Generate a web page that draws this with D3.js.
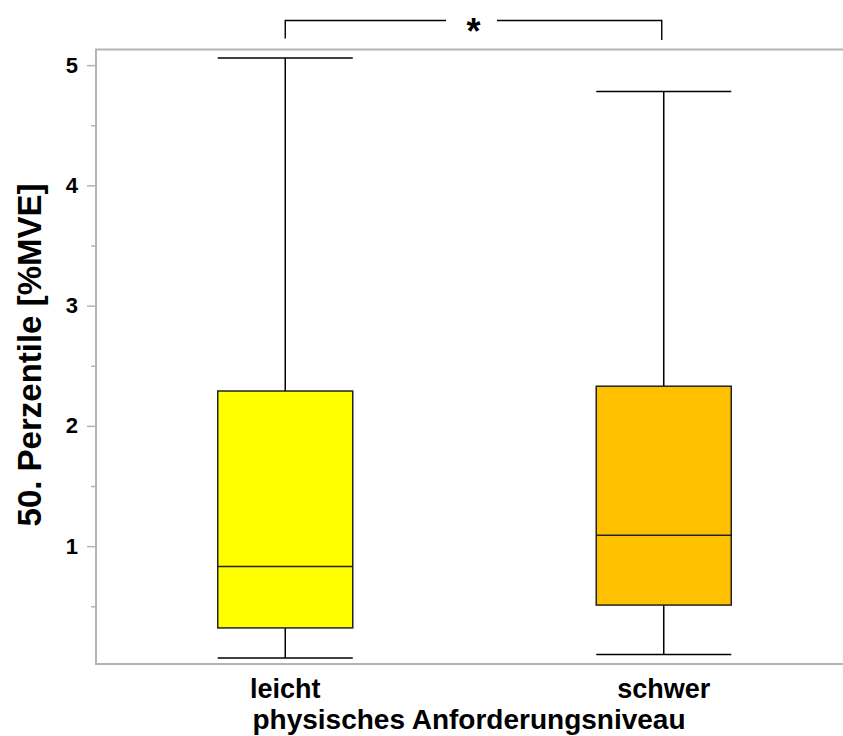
<!DOCTYPE html>
<html>
<head>
<meta charset="utf-8">
<script src="https://cdn.jsdelivr.net/npm/d3@7"></script>
<style>
  html, body { margin: 0; padding: 0; background: #fff; }
  svg { display: block; }
  text { font-family: "Liberation Sans", Arial, sans-serif; font-weight: bold; fill: #000; }
</style>
</head>
<body>
<svg id="chart" width="843" height="736"></svg>
<script>
// ---- data ----
const categories = ["leicht", "schwer"];
const whiskerLow = [0.07, 0.10];
const q1 = [0.32, 0.51];
const median = [0.83, 1.09];
const q3 = [2.29, 2.33];
const whiskerHigh = [5.06, 4.78];
const boxColors = ["#ffff00", "#ffc000"];
const majorTicks = [1, 2, 3, 4, 5];
const minorTicks = [0.5, 1.5, 2.5, 3.5, 4.5];
const yTitle = "50. Perzentile [%MVE]";
const xTitle = "physisches Anforderungsniveau";
const sigLabel = "*";

// ---- layout ----
const svg = d3.select("#chart");
const pLeft = 96, pRight = 853, pTop = 49.5, pBottom = 664;
const boxW = 135;

const x = d3.scalePoint().domain(categories).range([pLeft, pRight]).padding(0.5);
const y = d3.scaleLinear().domain([0.02, 5.13]).range([pBottom, pTop]);

// frame
const frame = svg.append("g").attr("stroke", "#b4b4b4").attr("stroke-width", 2).attr("fill", "none");
frame.append("path").attr("d", `M${pRight},${pTop}H${pLeft}V${pBottom}H${pRight}`);

// y axis ticks
svg.append("g").attr("transform", `translate(${pLeft},0)`)
  .call(d3.axisLeft(y).tickValues(majorTicks).tickSize(9).tickPadding(9).tickFormat(d3.format("d")))
  .attr("font-size", 22).attr("font-family", "Liberation Sans, Arial, sans-serif")
  .call(g => g.select(".domain").remove())
  .call(g => g.selectAll("line").attr("stroke", "#b4b4b4").attr("stroke-width", 1.5))
  .call(g => g.selectAll("text").style("font-size", "22px").attr("font-weight", "bold").attr("fill", "#000"));
svg.append("g").attr("transform", `translate(${pLeft},0)`)
  .call(d3.axisLeft(y).tickValues(minorTicks).tickSize(5).tickFormat(""))
  .call(g => g.select(".domain").remove())
  .call(g => g.selectAll("line").attr("stroke", "#b4b4b4").attr("stroke-width", 1.5));

// boxes
const data = categories.map((c, i) => ({
  c, lo: whiskerLow[i], q1: q1[i], med: median[i], q3: q3[i], hi: whiskerHigh[i], color: boxColors[i]
}));
const g = svg.append("g").selectAll("g").data(data).join("g");
g.append("line").attr("x1", d => x(d.c)).attr("x2", d => x(d.c))
  .attr("y1", d => y(d.hi)).attr("y2", d => y(d.lo))
  .attr("stroke", "#000").attr("stroke-width", 1.5);
g.append("line").attr("x1", d => x(d.c) - boxW / 2).attr("x2", d => x(d.c) + boxW / 2)
  .attr("y1", d => y(d.hi)).attr("y2", d => y(d.hi)).attr("stroke", "#000").attr("stroke-width", 1.5);
g.append("line").attr("x1", d => x(d.c) - boxW / 2).attr("x2", d => x(d.c) + boxW / 2)
  .attr("y1", d => y(d.lo)).attr("y2", d => y(d.lo)).attr("stroke", "#000").attr("stroke-width", 1.5);
g.append("rect").attr("x", d => x(d.c) - boxW / 2).attr("width", boxW)
  .attr("y", d => y(d.q3)).attr("height", d => y(d.q1) - y(d.q3))
  .attr("fill", d => d.color).attr("stroke", "#222").attr("stroke-width", 1.5);
g.append("line").attr("x1", d => x(d.c) - boxW / 2).attr("x2", d => x(d.c) + boxW / 2)
  .attr("y1", d => y(d.med)).attr("y2", d => y(d.med)).attr("stroke", "#222").attr("stroke-width", 1.5);

// category labels
svg.append("g").selectAll("text").data(categories).join("text")
  .attr("x", d => x(d)).attr("y", 698).attr("text-anchor", "middle")
  .style("font-size", "27px").text(d => d);

// axis titles
svg.append("text").attr("x", 469).attr("y", 729).attr("text-anchor", "middle")
  .style("font-size", "28px").text(xTitle);
svg.append("text").attr("transform", "translate(41,355) rotate(-90)").attr("text-anchor", "middle")
  .style("font-size", "33px").text(yTitle);

// significance bracket
const bx1 = x(categories[0]), bx2 = x(categories[1]) - 2;
const by = 20.5;
const sig = svg.append("g").attr("stroke", "#000").attr("stroke-width", 1.4).attr("fill", "none");
sig.append("path").attr("d", `M${bx1},38.5V${by}H446`);
sig.append("path").attr("d", `M497,${by}H${bx2}V40`);
svg.append("text").attr("x", (bx1 + bx2) / 2).attr("y", 44).attr("text-anchor", "middle")
  .style("font-size", "36px").attr("font-weight", "normal").text(sigLabel);
</script>
</body>
</html>
